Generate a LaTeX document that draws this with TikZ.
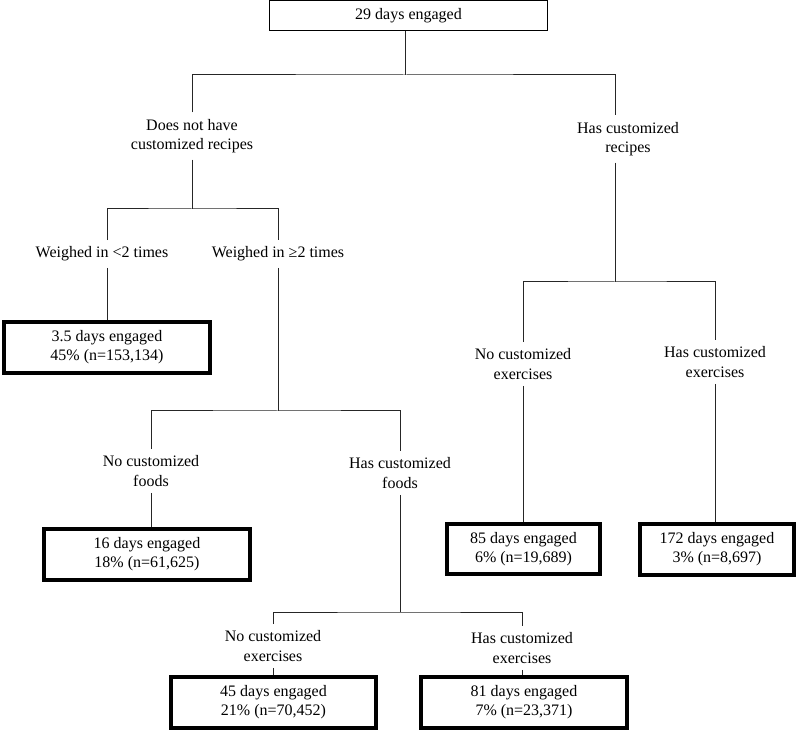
\documentclass[tikz,border=0pt]{standalone}
\usepackage{fontspec}
\setmainfont{Liberation Serif}
\usetikzlibrary{positioning}

\tikzset{
  rootbox/.style={draw, line width=0.75pt, minimum width=208pt, minimum height=22pt, inner sep=0pt},
  split/.style={align=center, inner sep=5pt, outer sep=0pt},
  leafbox/.style={draw, line width=3pt, align=center, minimum width=154pt, minimum height=38pt, inner sep=2pt},
  smallleaf/.style={leafbox, minimum width=115pt},
  branch/.style={line width=0.75pt, black!85}
}

\begin{document}
\begin{tikzpicture}[x=0.75pt, y=-0.75pt, font=\fontsize{12}{14.4}\selectfont]
        \useasboundingbox (0,0) rectangle (796,730);

        % Root
        \node[rootbox] (root) at (408.5,15.5) {29 days engaged};

        % Split nodes
        \node[split] (nocr) at (192,136) {Does not have\\customized recipes};
        \node[split] (hascr) at (628,139) {Has customized\\recipes};
        \node[split] (wlow) at (102,254) {Weighed in <2 times};
        \node[split] (whigh) at (278,254) {Weighed in ≥2 times};
        \node[split] (nocf) at (151,471) {No customized\\foods};
        \node[split] (hascf) at (400,473) {Has customized\\foods};
        \node[split] (noce) at (273,646) {No customized\\exercises};
        \node[split] (hasce) at (522,648) {Has customized\\exercises};
        \node[split] (nocer) at (523,364) {No customized\\exercises};
        \node[split] (hascer) at (715,362) {Has customized\\exercises};

        % Leaves
        \node[leafbox] (leafa) at (107,347.5) {3.5 days engaged\\45\% (n=153,134)};
        \node[leafbox] (leafb) at (147,554.5) {16 days engaged\\18\% (n=61,625)};
        \node[leafbox] (leafc) at (273.5,702.5) {45 days engaged\\21\% (n=70,452)};
        \node[leafbox] (leafd) at (524,702.5) {81 days engaged\\7\% (n=23,371)};
        \node[smallleaf] (leafe) at (523.5,549) {85 days engaged\\6\% (n=19,689)};
        \node[smallleaf] (leaff) at (717,549.5) {172 days engaged\\3\% (n=8,697)};

        % Junctions
        \coordinate (j0) at (405,75);
        \coordinate (j1) at (192,209);
        \coordinate (j2) at (615,282);
        \coordinate (j3) at (278,411);
        \coordinate (j4) at (400,612);

        % Branches
        \draw[branch] (j0 |- root.south) -- (j0);
        \draw[branch] (nocr.north) |- (j0) -| (j2 |- hascr.north);
        \draw[branch] (nocr.south) -- (j1);
        \draw[branch] (leafa.north |- wlow.north) |- (j1) -| (whigh.north);
        \draw[branch] (leafa.north |- wlow.south) -- (leafa.north);
        \draw[branch] (whigh.south) -- (j3);
        \draw[branch] (nocf.north) |- (j3) -| (hascf.north);
        \draw[branch] (nocf.south) -- (nocf.south |- leafb.north);
        \draw[branch] (hascf.south) -- (j4);
        \draw[branch] (noce.north) |- (j4) -| (hasce.north);
        \draw[branch] (noce.south) -- (noce.south |- leafc.north);
        \draw[branch] (hasce.south) -- (hasce.south |- leafd.north);
        \draw[branch] (j2 |- hascr.south) -- (j2);
        \draw[branch] (nocer.north) |- (j2) -| (hascer.north);
        \draw[branch] (nocer.south) -- (nocer.south |- leafe.north);
        \draw[branch] (hascer.south) -- (hascer.south |- leaff.north);
    \end{tikzpicture}
\end{document}
